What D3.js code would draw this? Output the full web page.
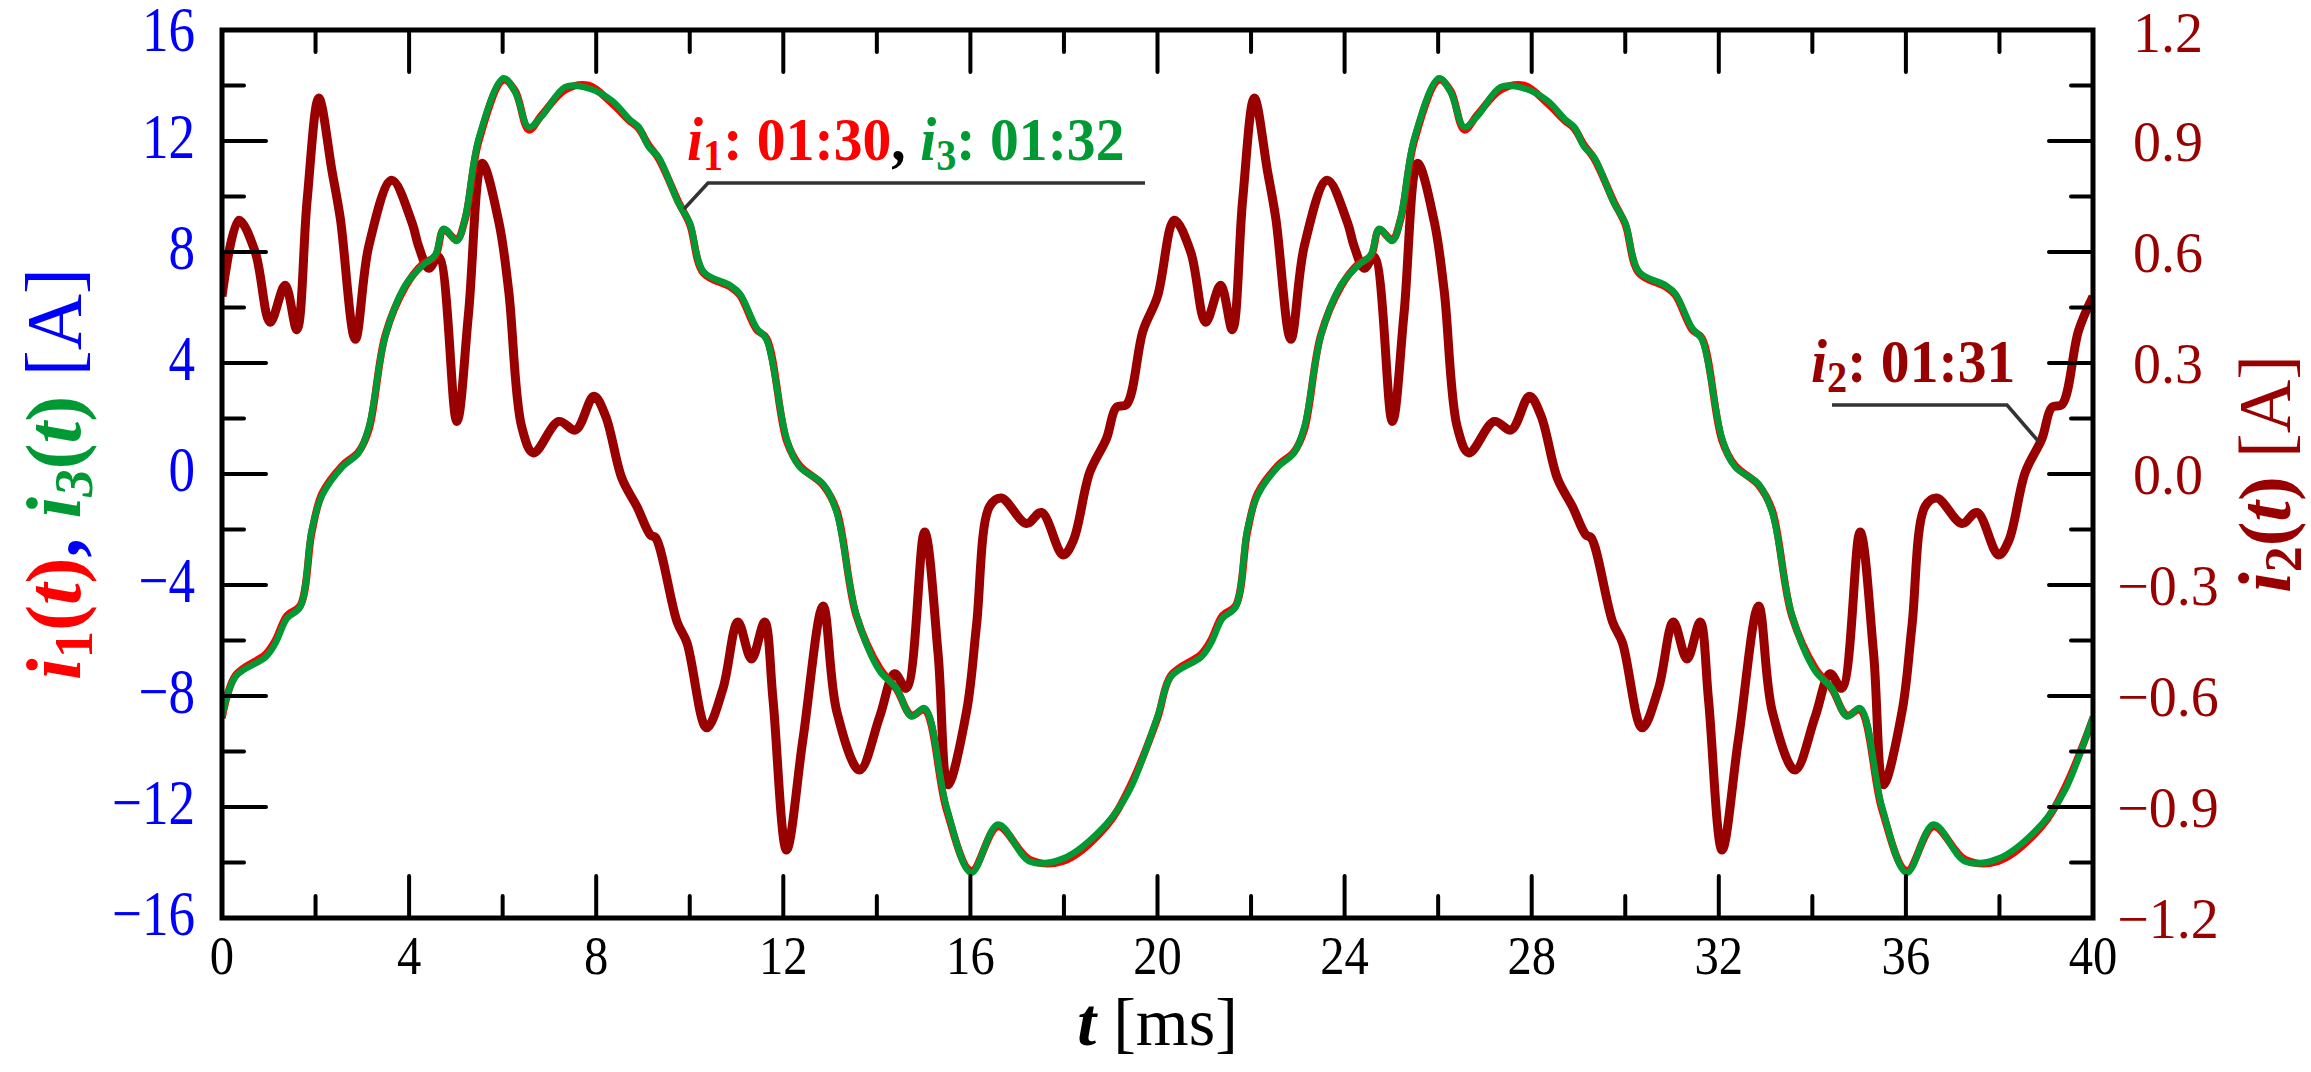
<!DOCTYPE html>
<html><head><meta charset="utf-8">
<script src="https://cdn.jsdelivr.net/npm/d3@7"></script>
<style>body{margin:0;background:#fff}svg{display:block}text{font-family:"Liberation Serif","Times New Roman",serif}</style>
</head><body><svg id="c" width="2311" height="1072"></svg>
<script>
// ---- data (one 20 ms period; second period repeats it) ----
const t13 = [0,0.29,0.93,1.14,1.39,1.67,1.92,2.14,2.57,2.92,3.14,3.49,3.92,4.28,4.56,4.74,5.02,5.2,5.49,6.02,6.27,6.56,6.84,7.34,7.84,8.34,8.7,8.91,9.12,9.34,9.76,10.0,10.29,10.86,11.07,11.43,11.64,12.07,12.35,12.85,13.14,13.56,14.06,14.42,14.74,15.02,15.49,16.02,16.59,17.27,17.98,18.9,19.4,20.0];
const i3v = [-8.74,-7.3,-6.6,-6.1,-5.2,-4.8,-2.0,-0.77,0.25,0.76,1.7,4.96,6.8,7.5,7.9,8.84,8.4,9.25,12.1,14.26,13.75,12.5,12.9,13.95,13.9,13.45,12.8,12.5,11.8,11.4,9.76,9.05,7.3,6.8,6.5,5.26,4.85,1.28,0.25,-0.36,-1.38,-5.06,-7.1,-7.72,-8.74,-8.44,-12.0,-14.37,-12.63,-13.96,-13.86,-12.63,-11.4,-8.74];
const i1v = [-8.8,-7.25,-6.5,-6.0,-5.1,-4.75,-2.1,-0.7,0.3,0.8,1.6,5.0,6.75,7.55,7.85,8.8,8.45,9.2,12.0,14.2,13.8,12.4,12.95,13.85,14.0,13.35,12.75,12.45,11.85,11.35,9.8,9.0,7.25,6.75,6.45,5.2,4.9,1.2,0.3,-0.4,-1.3,-5.1,-7.0,-7.75,-8.7,-8.5,-12.1,-14.3,-12.7,-13.9,-13.95,-12.7,-11.3,-8.8];
const t2 = [0,0.36,0.71,1.03,1.35,1.6,1.82,2.07,2.35,2.53,2.85,3.14,3.63,4.06,4.2,4.42,4.63,5.02,5.27,5.56,5.92,6.13,6.41,6.66,7.2,7.56,7.95,8.2,8.55,8.87,9.16,9.27,9.73,9.94,10.36,10.71,11.03,11.32,11.6,11.78,12.07,12.42,12.85,13.14,13.63,14.06,14.38,14.63,15.02,15.31,15.52,15.92,16.13,16.41,16.66,17.2,17.52,17.98,18.2,18.55,18.91,19.12,19.34,19.69,20.0];
const i2v = [0.48,0.686,0.60,0.41,0.51,0.39,0.74,1.016,0.82,0.69,0.364,0.617,0.794,0.68,0.617,0.556,0.587,0.142,0.433,0.84,0.68,0.494,0.126,0.057,0.142,0.119,0.21,0.157,-0.012,-0.088,-0.165,-0.172,-0.40,-0.456,-0.686,-0.58,-0.40,-0.50,-0.40,-0.61,-1.016,-0.717,-0.357,-0.64,-0.80,-0.656,-0.54,-0.579,-0.157,-0.487,-0.84,-0.64,-0.41,-0.088,-0.065,-0.134,-0.104,-0.219,-0.18,0.004,0.096,0.18,0.188,0.387,0.48];
const xTicks = [0,4,8,12,16,20,24,28,32,36,40];
const yLTicks = [-16,-12,-8,-4,0,4,8,12,16];
const yRTicks = [-1.2,-0.9,-0.6,-0.3,0.0,0.3,0.6,0.9,1.2];
const period = 20;

const svg = d3.select("#c");
const L=222,R=2093,T=30,B=918;
const x = d3.scaleLinear().domain([0,40]).range([L,R]);
const yL = d3.scaleLinear().domain([-16,16]).range([B,T]);
const yR = d3.scaleLinear().domain([-1.2,1.2]).range([B,T]);
const C1="#ff0000",C3="#009933",C2="#990000",CB="#0000ff";

function two(ts, vs){const a=[];for(let k=0;k<2;k++)ts.forEach((t,i)=>{if(k==1&&i==0)return;a.push([t+k*period,vs[i]]);});return a;}
const d1=two(t13,i1v), d3s=two(t13,i3v), d2=two(t2,i2v);

svg.append("clipPath").attr("id","pc").append("rect").attr("x",L).attr("y",T).attr("width",R-L).attr("height",B-T);
const g=svg.append("g").attr("clip-path","url(#pc)");
const lineL=d3.line().x(d=>x(d[0])).y(d=>yL(d[1])).curve(d3.curveCatmullRom.alpha(0.5));
const lineR=d3.line().x(d=>x(d[0])).y(d=>yR(d[1])).curve(d3.curveCatmullRom.alpha(0.5));
g.append("path").attr("d",lineR(d2)).attr("fill","none").attr("stroke",C2).attr("stroke-width",9).attr("stroke-linejoin","round");
g.append("path").attr("d",lineL(d1)).attr("fill","none").attr("stroke",C1).attr("stroke-width",7.5).attr("stroke-linejoin","round");
g.append("path").attr("d",lineL(d3s)).attr("fill","none").attr("stroke",C3).attr("stroke-width",6.5).attr("stroke-linejoin","round");

// axes with inward ticks
const ax=svg.append("g").attr("stroke","#000").attr("stroke-width",4).attr("stroke-linecap","round");
const xMinor=d3.range(0,41,2), yMinorL=d3.range(-16,17,2);
xMinor.forEach(v=>{const len=(v%4===0)?42:22;
  ax.append("line").attr("x1",x(v)).attr("x2",x(v)).attr("y1",B).attr("y2",B-len);
  ax.append("line").attr("x1",x(v)).attr("x2",x(v)).attr("y1",T).attr("y2",T+len);});
yMinorL.forEach(v=>{const len=(v%4===0)?44:22;
  ax.append("line").attr("x1",L).attr("x2",L+len).attr("y1",yL(v)).attr("y2",yL(v));
  ax.append("line").attr("x1",R).attr("x2",R-len).attr("y1",yL(v)).attr("y2",yL(v));});
svg.append("rect").attr("x",L).attr("y",T).attr("width",R-L).attr("height",B-T).attr("fill","none").attr("stroke","#000").attr("stroke-width",5);

const fmt=v=>(v<0?"\u2212":"")+Math.abs(v);
xTicks.forEach(v=>svg.append("text").attr("transform",`translate(${x(v)},974) scale(0.9,1)`).attr("text-anchor","middle").attr("font-size",54).text(fmt(v)));
yLTicks.forEach(v=>svg.append("text").attr("transform",`translate(195,${yL(v)+(v===16?21:17)}) scale(0.83,1)`).attr("text-anchor","end").attr("font-size",64).attr("fill",CB).text(fmt(v)));
yRTicks.forEach(v=>svg.append("text").attr("x",2168).attr("y",yR(v)+(v===1.2?22:20)).attr("text-anchor","middle").attr("font-size",56).attr("fill",C2).text((v<0?"\u2212":"")+Math.abs(v).toFixed(1)));

// axis titles
const xt=svg.append("text").attr("x",(L+R)/2).attr("y",1045).attr("text-anchor","middle").attr("font-size",68);
xt.append("tspan").attr("font-weight","bold").attr("font-style","italic").text("t");
xt.append("tspan").text(" [ms]");

function lbl(sel,parts){parts.forEach(p=>{const s=sel.append("tspan").attr("fill",p.c).text(p.t);
  if(p.bi){s.attr("font-weight","bold").attr("font-style","italic");}
  if(p.b)s.attr("font-weight","bold");
  if(p.sub){s.attr("font-size","0.7em").attr("dy","0.22em");}
  if(p.up){s.attr("dy","-0.154em");}});}
const yl=svg.append("text").attr("transform",`translate(80,474) rotate(-90)`).attr("text-anchor","middle").attr("font-size",78);
lbl(yl,[{t:"i",c:C1,bi:1},{t:"1",c:C1,b:1,sub:1},{t:"(",c:C1,b:1,up:1},{t:"t",c:C1,bi:1},{t:")",c:C1,b:1},{t:", ",c:CB,b:1},{t:"i",c:C3,bi:1},{t:"3",c:C3,bi:1,sub:1},{t:"(",c:C3,b:1,up:1},{t:"t",c:C3,bi:1},{t:")",c:C3,b:1},{t:" [A]",c:CB}]);
const yr=svg.append("text").attr("transform",`translate(2290,474) rotate(-90)`).attr("text-anchor","middle").attr("font-size",74);
lbl(yr,[{t:"i",c:C2,bi:1},{t:"2",c:C2,b:1,sub:1},{t:"(",c:C2,b:1,up:1},{t:"t",c:C2,bi:1},{t:")",c:C2,b:1},{t:" [A]",c:C2}]);

// annotations
const an=svg.append("g").attr("stroke","#333").attr("stroke-width",3.5).attr("fill","none");
an.append("polyline").attr("points",`684,209 708,183 1145,183`);
an.append("polyline").attr("points",`1832,405 2007,405 2039,442`);
const a1=svg.append("text").attr("transform","translate(687,160) scale(0.93,1)").attr("font-size",62);
lbl(a1,[{t:"i",c:C1,bi:1},{t:"1",c:C1,b:1,sub:1},{t:": 01:30",c:C1,b:1,up:1},{t:", ",c:"#000",b:1},{t:"i",c:C3,bi:1},{t:"3",c:C3,b:1,sub:1},{t:": 01:32",c:C3,b:1,up:1}]);
const a2=svg.append("text").attr("transform","translate(1811,382) scale(0.93,1)").attr("font-size",62);
lbl(a2,[{t:"i",c:C2,bi:1},{t:"2",c:C2,b:1,sub:1},{t:": 01:31",c:C2,b:1,up:1}]);
</script></body></html>
